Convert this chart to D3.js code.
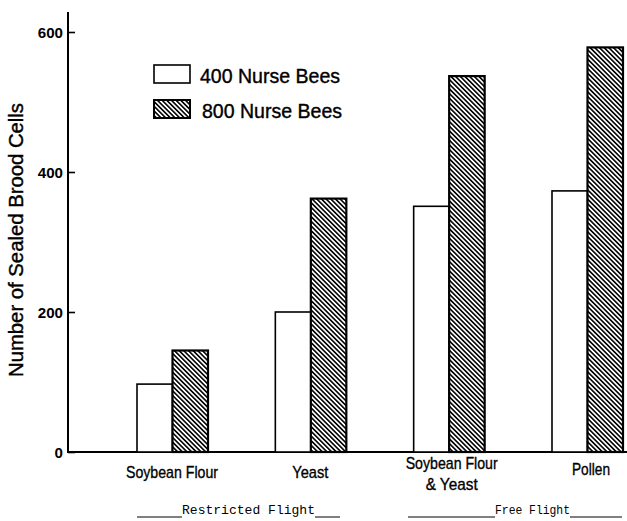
<!DOCTYPE html>
<html>
<head>
<meta charset="utf-8">
<script src="https://cdn.jsdelivr.net/npm/d3@7"></script>
<style>
  html, body { margin: 0; padding: 0; background: #fff; }
  svg { display: block; }
  .cond { font-family: "Liberation Sans Narrow", "Arial Narrow", "Liberation Sans", Arial, sans-serif; }
  .mono { font-family: "Liberation Mono", "Courier New", monospace; }
</style>
</head>
<body>
<svg id="chart" width="627" height="521"></svg>
<script>
// ---- data ----
const categories = ["Soybean Flour", "Yeast", "Soybean Flour\n& Yeast", "Pollen"];
const series = ["400 Nurse Bees", "800 Nurse Bees"];
const values400 = [97, 200, 351, 373];
const values800 = [145, 362, 537, 578];
const yTicks = [0, 200, 400, 600];
const groupLabels = ["Restricted Flight", "Free Flight"];

const svg = d3.select("#chart");

// measured label widths (condensed type) used to compress text
function fit(sel, w) {
  return sel.attr("textLength", w).attr("lengthAdjust", "spacingAndGlyphs");
}

// patterns
const defs = svg.append("defs");
const pat = defs.append("pattern")
  .attr("id", "hatch")
  .attr("patternUnits", "userSpaceOnUse")
  .attr("width", 3.3).attr("height", 10)
  .attr("patternTransform", "rotate(-45)");
pat.append("rect").attr("width", 3.3).attr("height", 10).attr("fill", "#fff");
pat.append("line").attr("x1", 0.8).attr("x2", 0.8).attr("y1", 0).attr("y2", 10)
  .attr("stroke", "#000").attr("stroke-width", 1.6);

// scales
const y = d3.scaleLinear().domain([0, 600]).range([452, 32]);
const x = d3.scalePoint().domain(categories).range([172, 587]);
const xs = d3.scaleBand().domain(series).range([-35, 36]).padding(0);

// axes
const yAxis = d3.axisRight(y).tickValues(yTicks).tickSize(7).tickFormat(d3.format("d"));
const gy = svg.append("g").attr("transform", "translate(68,0)").call(yAxis);
gy.select(".domain").remove();
gy.selectAll(".tick line").attr("stroke", "#000").attr("stroke-width", 1.6);
gy.selectAll(".tick text").remove();
gy.selectAll(".tick").append("text")
  .attr("class", "cond")
  .attr("x", -5).attr("dy", "0.36em")
  .attr("text-anchor", "end")
  .attr("font-size", 15).attr("font-weight", "bold")
  .attr("fill", "#000")
  .text(d => d)
  .each(function(d) { fit(d3.select(this), String(d).length * 8.4); });

svg.append("line").attr("x1", 68).attr("x2", 68).attr("y1", 12).attr("y2", 453)
  .attr("stroke", "#000").attr("stroke-width", 2);
svg.append("line").attr("x1", 67).attr("x2", 627).attr("y1", y(0)).attr("y2", y(0))
  .attr("stroke", "#000").attr("stroke-width", 2);

// bars
const data = categories.map((c, i) => ({ c, v: [values400[i], values800[i]] }));
const g = svg.append("g");
data.forEach(d => {
  series.forEach((s, j) => {
    g.append("rect")
      .attr("x", x(d.c) + xs(s))
      .attr("y", y(d.v[j]))
      .attr("width", xs.bandwidth())
      .attr("height", y(0) - y(d.v[j]))
      .attr("fill", j === 0 ? "#fff" : "url(#hatch)")
      .attr("stroke", "#000")
      .attr("stroke-width", j === 0 ? 1.6 : 2.2);
  });
});

// category labels
const labelWidths = { "Soybean Flour": 92, "Yeast": 36, "& Yeast": 52, "Pollen": 38 };
categories.forEach(c => {
  const lines = c.split("\n");
  const cx = x(c) + (c === "Pollen" ? 4 : (lines.length > 1 ? 3 : 0));
  lines.forEach((l, i) => {
    const t = svg.append("text")
      .attr("class", "cond")
      .attr("text-anchor", "middle")
      .attr("font-size", 17)
      .attr("fill", "#000")
      .attr("stroke", "#000").attr("stroke-width", 0.35)
      .attr("x", cx)
      .attr("y", (lines.length > 1 ? 469 : (c === "Pollen" ? 475 : 478)) + i * 21)
      .text(l);
    fit(t, labelWidths[l]);
  });
});

// y axis title
fit(svg.append("text")
  .attr("class", "cond")
  .attr("transform", "translate(23,240) rotate(-90)")
  .attr("text-anchor", "middle")
  .attr("font-size", 20)
  .attr("fill", "#000")
  .attr("stroke", "#000").attr("stroke-width", 0.4)
  .text("Number of Sealed Brood Cells"), 274);

// legend
const legend = svg.append("g");
series.forEach((s, j) => {
  const ly = 65 + j * 35;
  legend.append("rect")
    .attr("x", 154).attr("y", ly).attr("width", 36).attr("height", 18)
    .attr("fill", j === 0 ? "#fff" : "url(#hatch)")
    .attr("stroke", "#000").attr("stroke-width", j === 0 ? 1.6 : 2);
  fit(legend.append("text")
    .attr("class", "cond")
    .attr("x", 200 + j * 2).attr("y", ly + 18)
    .attr("font-size", 21)
    .attr("fill", "#000")
    .attr("stroke", "#000").attr("stroke-width", 0.4)
    .text(s), 140);
});

// group annotations
const groups = [
  { label: groupLabels[0], x1: 137, tx0: 182, tx1: 315, x2: 340 },
  { label: groupLabels[1], x1: 408, tx0: 495, tx1: 570, x2: 622 }
];
groups.forEach(gr => {
  svg.append("line").attr("x1", gr.x1).attr("x2", gr.tx0).attr("y1", 517).attr("y2", 517)
    .attr("stroke", "#000").attr("stroke-width", 1);
  svg.append("line").attr("x1", gr.tx1).attr("x2", gr.x2).attr("y1", 517).attr("y2", 517)
    .attr("stroke", "#000").attr("stroke-width", 1);
  fit(svg.append("text")
    .attr("class", "mono")
    .attr("x", gr.tx0).attr("y", 514)
    .attr("font-size", 12)
    .attr("fill", "#000")
    .text(gr.label), gr.tx1 - gr.tx0);
});
</script>
</body>
</html>
